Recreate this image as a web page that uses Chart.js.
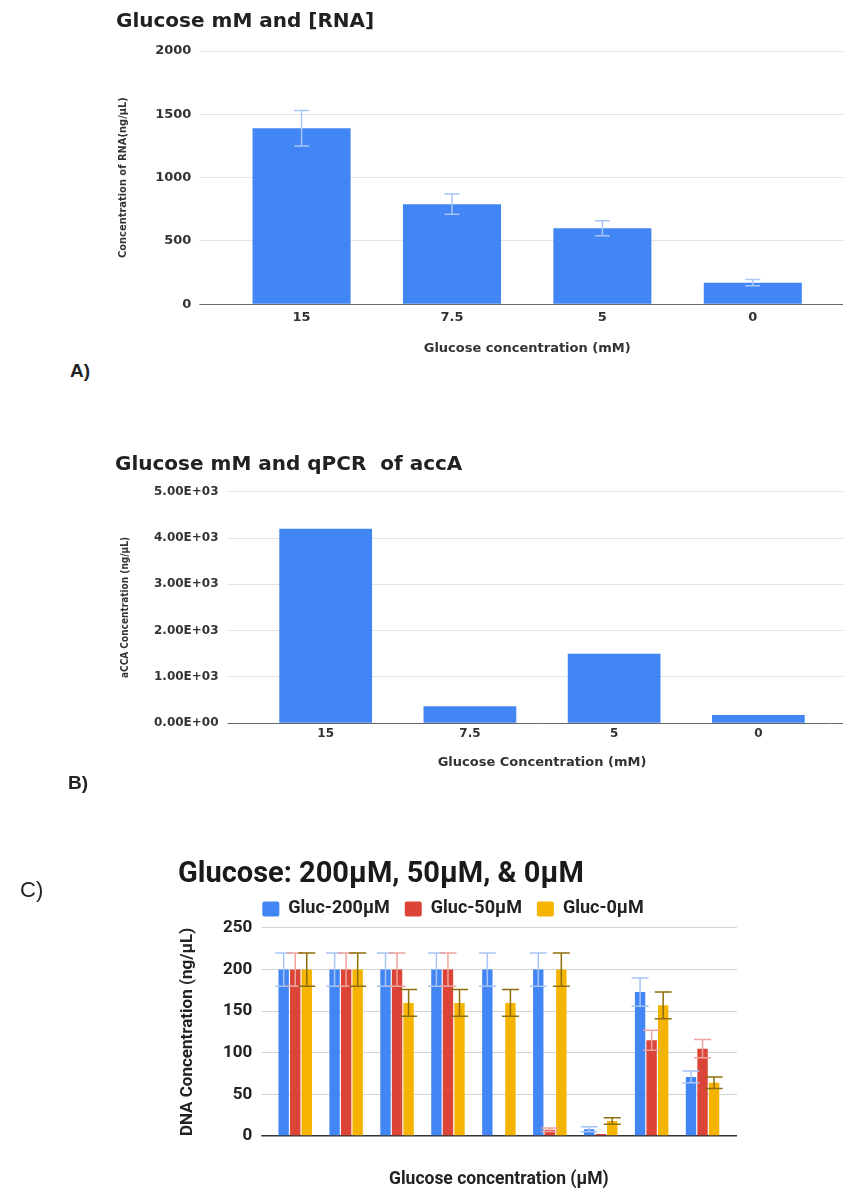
<!DOCTYPE html>
<html>
<head>
<meta charset="utf-8">
<script src="https://cdn.jsdelivr.net/npm/chart.js@4/dist/chart.umd.min.js"></script>
<style>
  body { margin: 0; background: #fff; }
  #page { position: relative; width: 843px; height: 1190px; overflow: hidden; background: #fff; }
  canvas { position: absolute; left: 0; }
  .panel { position: absolute; color: #222; }
</style>
</head>
<body>
<div id="page">
  <canvas id="chartA" width="843" height="360" style="top:0"></canvas>
  <canvas id="chartB" width="843" height="335" style="top:440px"></canvas>
  <canvas id="chartC" width="843" height="350" style="top:840px"></canvas>
  <div class="panel" style="left:70px;top:360px;font:bold 19px 'Liberation Sans', sans-serif;">A)</div>
  <div class="panel" style="left:68px;top:772px;font:bold 19px 'Liberation Sans', sans-serif;">B)</div>
  <div class="panel" style="left:20px;top:877px;font:22px 'Liberation Sans', sans-serif;">C)</div>
</div>
<script>
// panel A - RNA
var rnaGlucose = ["15", "7.5", "5", "0"];
var rnaValues = [1390, 790, 600, 170];
var rnaErrors = [140, 80, 60, 25];

// panel B - qPCR of accA
var accaGlucose = ["15", "7.5", "5", "0"];
var accaValues = [4200, 370, 1500, 180];

// panel C - DNA
var dnaGroups = ["1", "2", "3", "4", "5", "6", "7", "8", "9"];
var gluc200 = [200, 200, 200, 200, 200, 200, 8, 173, 71];
var gluc200Err = [20, 20, 20, 20, 20, 20, 3, 17, 7];
var gluc50 = [200, 200, 200, 200, 0.8, 7.5, 2.5, 115, 105];
var gluc50Err = [20, 20, 20, 20, 0, 2, 0, 12, 11];
var gluc0 = [200, 200, 160, 160, 160, 200, 18, 157, 64];
var gluc0Err = [20, 20, 16, 16, 16, 20, 4, 16, 7];

var dejavu = "'DejaVu Sans', sans-serif";
var narrow = "'Liberation Sans Narrow', 'DejaVu Sans Condensed', sans-serif";
var roboto = "Roboto, sans-serif";

// draws the grid lines a bit past the right edge of the plot
var gridExtend = {
    id: "gridExtend",
    beforeDatasetsDraw: function (chart, args, opts) {
        var ctx = chart.ctx;
        var area = chart.chartArea;
        var y = chart.scales.y;
        ctx.save();
        y.ticks.forEach(function (t) {
            var w = t.value === 0 ? opts.zeroWidth : 1;
            var py = Math.round(y.getPixelForValue(t.value) - w / 2) + w / 2;
            ctx.strokeStyle = t.value === 0 ? opts.zeroColor : opts.color;
            ctx.lineWidth = w;
            ctx.beginPath();
            ctx.moveTo(area.right, py);
            ctx.lineTo(area.right + opts.right, py);
            ctx.stroke();
        });
        ctx.restore();
    }
};

// error bars read from dataset.errors
var errorBars = {
    id: "errorBars",
    afterDatasetsDraw: function (chart) {
        var ctx = chart.ctx;
        var y = chart.scales.y;
        chart.data.datasets.forEach(function (ds, i) {
            if (!ds.errors) return;
            var meta = chart.getDatasetMeta(i);
            ctx.save();
            ctx.strokeStyle = ds.errorColor;
            ctx.lineWidth = 1.5;
            meta.data.forEach(function (bar, j) {
                var err = ds.errors[j];
                if (!err) return;
                var top = y.getPixelForValue(ds.data[j] + err);
                var bottom = y.getPixelForValue(ds.data[j] - err);
                var half = ds.capWidth / 2;
                ctx.beginPath();
                ctx.moveTo(bar.x, top);
                ctx.lineTo(bar.x, bottom);
                ctx.moveTo(bar.x - half, top);
                ctx.lineTo(bar.x + half, top);
                ctx.moveTo(bar.x - half, bottom);
                ctx.lineTo(bar.x + half, bottom);
                ctx.stroke();
            });
            ctx.restore();
        });
    }
};

function gridColor(light, dark) {
    return function (c) { return c.tick && c.tick.value === 0 ? dark : light; };
}

function sciLabel(v) {
    var parts = Number(v).toExponential(2).split("e");
    var exp = parts[1];
    return parts[0] + "E" + exp[0] + exp.slice(1).padStart(2, "0");
}

// A
new Chart(document.getElementById("chartA"), {
    type: "bar",
    data: {
        labels: rnaGlucose,
        datasets: [{
            data: rnaValues,
            errors: rnaErrors,
            backgroundColor: "#4285f4",
            errorColor: "#a9c6f7",
            capWidth: 15,
            barPercentage: 0.652,
            categoryPercentage: 1
        }]
    },
    options: {
        responsive: false,
        animation: false,
        layout: { padding: { left: 116, right: 15, top: 0, bottom: 0 } },
        plugins: {
            legend: { display: false },
            tooltip: { enabled: false },
            title: {
                display: true, text: "Glucose mM and [RNA]", align: "start", color: "#212121",
                font: { family: dejavu, size: 20, weight: "bold", lineHeight: 1.2 },
                padding: { top: 10, bottom: 17 }
            },
            gridExtend: { right: 15, color: "#e3e3e3", zeroColor: "#666", zeroWidth: 1 }
        },
        scales: {
            x: {
                grid: { display: false, drawTicks: false },
                border: { display: false },
                ticks: { color: "#333", padding: 6, font: { family: dejavu, size: 13, weight: "bold" } },
                title: {
                    display: true, text: "Glucose concentration (mM)", color: "#333",
                    font: { family: dejavu, size: 13, weight: "bold" },
                    padding: { top: 8.6, bottom: 4 }
                }
            },
            y: {
                min: 0, max: 2000,
                border: { display: false },
                grid: { color: gridColor("#e3e3e3", "#666"), tickLength: 27 },
                ticks: {
                    stepSize: 500, padding: 8, color: "#333",
                    font: { family: dejavu, size: 13, weight: "bold" },
                    callback: function (v) { return String(v); }
                },
                title: {
                    display: true, text: "Concentration of RNA(ng/μL)", color: "#333",
                    font: { family: narrow, size: 11, weight: "bold" },
                    padding: { top: 1, bottom: 17 }
                }
            }
        }
    },
    plugins: [gridExtend, errorBars]
});

// B
new Chart(document.getElementById("chartB"), {
    type: "bar",
    data: {
        labels: accaGlucose,
        datasets: [{
            data: accaValues,
            backgroundColor: "#4285f4",
            barPercentage: 0.643,
            categoryPercentage: 1
        }]
    },
    options: {
        responsive: false,
        animation: false,
        layout: { padding: { left: 115, right: 12.5, top: 0, bottom: 0 } },
        plugins: {
            legend: { display: false },
            tooltip: { enabled: false },
            title: {
                display: true, text: "Glucose mM and qPCR  of accA", align: "start", color: "#212121",
                font: { family: dejavu, size: 20, weight: "bold", lineHeight: 1.2 },
                padding: { top: 13, bottom: 14.7 }
            },
            gridExtend: { right: 13, color: "#e3e3e3", zeroColor: "#666", zeroWidth: 1 }
        },
        scales: {
            x: {
                grid: { display: false, drawTicks: false },
                border: { display: false },
                ticks: { color: "#333", padding: 3.5, font: { family: dejavu, size: 12, weight: "bold" } },
                title: {
                    display: true, text: "Glucose Concentration (mM)", color: "#333",
                    font: { family: dejavu, size: 13, weight: "bold" },
                    padding: { top: 10.2, bottom: 4.5 }
                }
            },
            y: {
                min: 0, max: 5000,
                border: { display: false },
                grid: { color: gridColor("#e3e3e3", "#666"), tickLength: 26 },
                ticks: {
                    stepSize: 1000, padding: 9, color: "#333",
                    font: { family: dejavu, size: 12, weight: "bold" },
                    callback: function (v) { return sciLabel(v); }
                },
                title: {
                    display: true, text: "aCCA Concentration (ng/μL)", color: "#333",
                    font: { family: narrow, size: 10, weight: "bold" },
                    padding: { top: 4, bottom: 14 }
                }
            }
        }
    },
    plugins: [gridExtend]
});

// C
new Chart(document.getElementById("chartC"), {
    type: "bar",
    data: {
        labels: dnaGroups,
        datasets: [{
            label: "Gluc-200μM",
            data: gluc200,
            errors: gluc200Err,
            backgroundColor: "#4285f4",
            errorColor: "#a6c4f6",
            capWidth: 17
        }, {
            label: "Gluc-50μM",
            data: gluc50,
            errors: gluc50Err,
            backgroundColor: "#db4437",
            errorColor: "#f0a39c",
            capWidth: 17
        }, {
            label: "Gluc-0μM",
            data: gluc0,
            errors: gluc0Err,
            backgroundColor: "#f4b400",
            errorColor: "#8d6e08",
            capWidth: 17
        }]
    },
    options: {
        responsive: false,
        animation: false,
        datasets: { bar: { categoryPercentage: 0.68, barPercentage: 0.9 } },
        layout: { padding: { left: 178, right: 115, top: 10, bottom: 0 } },
        plugins: {
            tooltip: { enabled: false },
            title: {
                display: true, text: "Glucose: 200μM, 50μM, & 0μM", align: "start", color: "#1a1a1a",
                font: { family: roboto, size: 29, weight: "bold", lineHeight: 0.724 },
                padding: { top: 14, bottom: 0 }
            },
            legend: {
                position: "top", align: "center",
                labels: {
                    boxWidth: 17, boxHeight: 15, padding: 15, color: "#222",
                    useBorderRadius: true, borderRadius: 2,
                    font: { family: roboto, size: 18, weight: "bold" }
                }
            },
            gridExtend: { right: 9, color: "#d4d4d4", zeroColor: "#333", zeroWidth: 1.5 }
        },
        scales: {
            x: {
                grid: { display: false, drawTicks: false },
                border: { display: false },
                ticks: { display: false },
                title: {
                    display: true, text: "Glucose concentration (μM)", color: "#222",
                    font: { family: roboto, size: 17.5, weight: "bold" },
                    padding: { top: 33, bottom: 0 }
                }
            },
            y: {
                min: 0, max: 250,
                border: { display: false },
                grid: {
                    color: gridColor("#d4d4d4", "#333"),
                    lineWidth: function (c) { return c.tick && c.tick.value === 0 ? 1.5 : 1; },
                    tickLength: 8.5
                },
                ticks: { stepSize: 50, padding: 9, color: "#222", font: { family: roboto, size: 17, weight: "bold" } },
                title: {
                    display: true, text: "DNA Concentration (ng/μL)", color: "#222",
                    font: { family: roboto, size: 17, weight: "bold" },
                    padding: { top: 0, bottom: 15.6 }
                }
            }
        }
    },
    plugins: [gridExtend, errorBars]
});
</script>
</body>
</html>
